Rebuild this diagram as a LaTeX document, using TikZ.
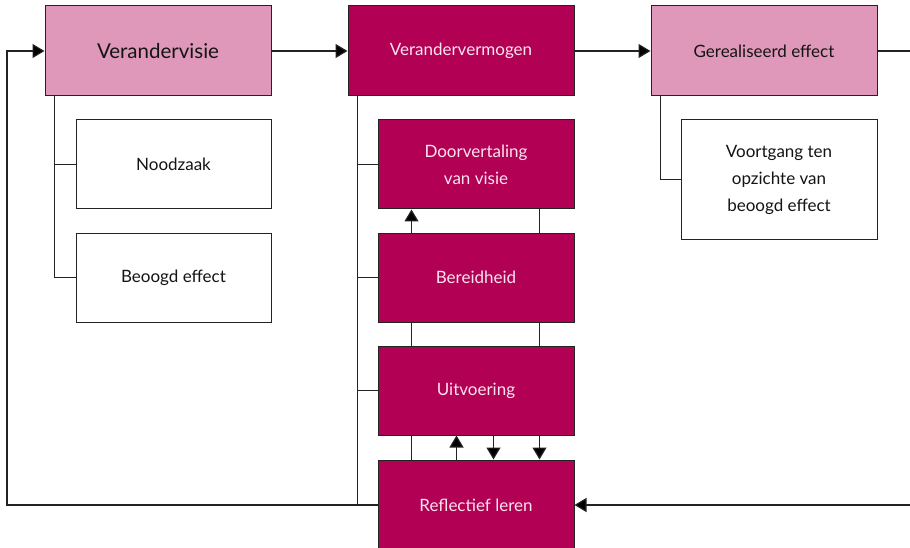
\documentclass[tikz,border=0pt]{standalone}
\usepackage{fontspec}
\setmainfont{Lato}
\usetikzlibrary{arrows.meta,calc}
\definecolor{darkmag}{RGB}{178,0,85}
\definecolor{lightmag}{RGB}{224,152,186}
\definecolor{linec}{RGB}{35,35,35}
\definecolor{ptext}{RGB}{250,228,238}
\definecolor{dtext}{RGB}{20,20,20}
\tikzset{
  x=1pt, y=-1pt,
  boxbase/.style={draw=linec, line width=1pt, rectangle, inner sep=0pt, align=center, font=\fontsize{17}{27}\selectfont},
  topbox/.style={boxbase, minimum width=226pt, minimum height=90pt},
  subbox/.style={boxbase, minimum width=196pt, minimum height=89pt},
  darkbox/.style={fill=darkmag, text=ptext},
  lightbox/.style={fill=lightmag, text=dtext},
  whitebox/.style={fill=white, text=dtext},
  conn/.style={draw=linec, line width=1.2pt},
  arr/.style={conn, -{Triangle[length=12pt,width=14pt,fill=black]}},
}
\begin{document}
\begin{tikzpicture}
\useasboundingbox (0,0) rectangle (910,548);
\clip (0,0) rectangle (910,548);
\fill[white] (0,0) rectangle (910,548);
% top row
\node[topbox, lightbox, font=\fontsize{20.5}{25}\selectfont] (vv) at (158,51) {Verandervisie};
\node[topbox, darkbox] (vm) at (461,51) {Verandervermogen};
\node[topbox, lightbox] (ge) at (764,51) {Gerealiseerd effect};
% left column
\node[subbox, whitebox, minimum width=195pt] (nz) at (173.5,164.5) {Noodzaak};
\node[subbox, whitebox, minimum width=195pt] (be) at (173.5,277.5) {Beoogd effect};
% right column
\node[subbox, whitebox, minimum height=119pt] (vo) at (779,179.5) {Voortgang ten\\opzichte van\\beoogd effect};
% middle column
\node[subbox, darkbox] (dv) at (476,164.5) {Doorvertaling\\van visie};
\node[subbox, darkbox] (bh) at (476,277.5) {Bereidheid};
\node[subbox, darkbox] (ui) at (476,390.5) {Uitvoering};
\node[subbox, darkbox, minimum height=90pt] (rl) at (476,505) {Reflectief leren};
% helper coordinates for loops
\coordinate (lft) at (7,505);
\coordinate (rt1) at (918,51);
\coordinate (rt2) at (918,505);
% main flow
\draw[arr] (vv.east) -- (vm.west);
\draw[arr] (vm.east) -- (ge.west);
\draw[conn] (ge.east) -- (rt1) -- (rt2);
\draw[arr] (rt2) -- (rl.east);
\draw[arr] (rl.west) -- (lft) |- (vv.west);
% tree connectors
\draw[conn] ([xshift=10pt]vv.south west) |- (nz.west);
\draw[conn] ([xshift=10pt]vv.south west) |- (be.west);
\draw[conn] ([xshift=10pt]ge.south west) |- (vo.west);
\draw[conn] ([xshift=10pt]vm.south west) |- (dv.west);
\draw[conn] ([xshift=10pt]vm.south west) |- (bh.west);
\draw[conn] ([xshift=10pt]vm.south west) |- (ui.west);
\draw[conn] ([xshift=10pt]vm.south west) |- (rl.west);
% middle links
\draw[arr] ([xshift=34pt]bh.north west) -- ([xshift=34pt]dv.south west);
\draw[conn] ([xshift=162pt]dv.south west) -- ([xshift=162pt]bh.north west);
\draw[conn] ([xshift=34pt]bh.south west) -- ([xshift=34pt]ui.north west);
\draw[conn] ([xshift=162pt]bh.south west) -- ([xshift=162pt]ui.north west);
\draw[conn] ([xshift=34pt]ui.south west) -- ([xshift=34pt]rl.north west);
\draw[arr] ([xshift=79pt]rl.north west) -- ([xshift=79pt]ui.south west);
\draw[arr] ([xshift=116pt]ui.south west) -- ([xshift=116pt]rl.north west);
\draw[arr] ([xshift=162pt]ui.south west) -- ([xshift=162pt]rl.north west);
\end{tikzpicture}
\end{document}
